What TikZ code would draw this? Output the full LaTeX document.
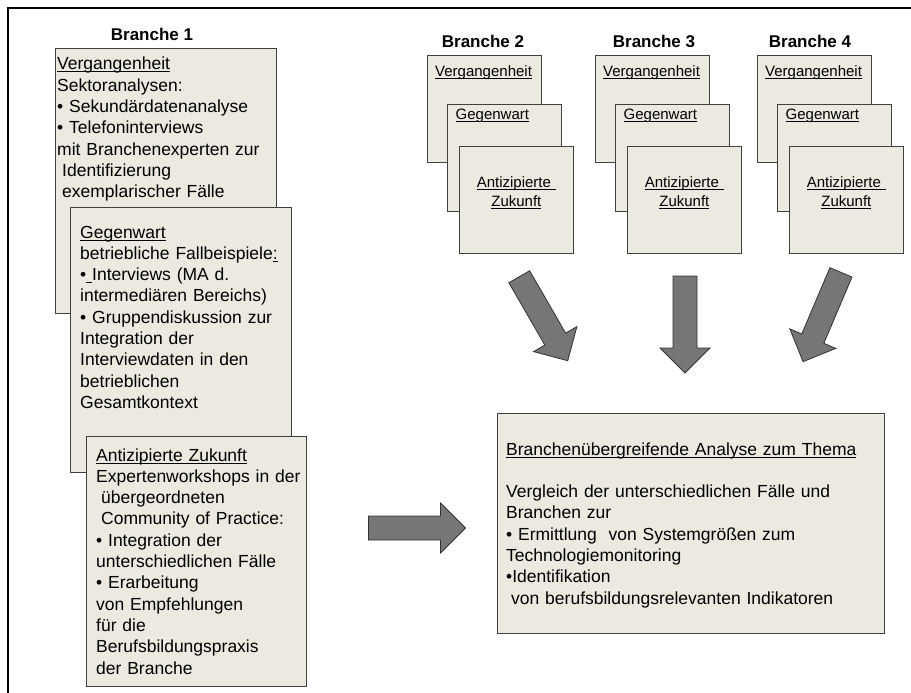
\documentclass[tikz,border=0pt]{standalone}
\usepackage{fontspec}
\setmainfont{Liberation Sans}
\definecolor{cardfill}{RGB}{236,233,224}
\definecolor{cardline}{RGB}{64,64,64}
\definecolor{arrowfill}{RGB}{118,118,118}
\newcommand\uword[1]{\leavevmode\setbox0=\hbox{#1}\rlap{\rule[-2.4pt]{\wd0}{0.9pt}}\box0}
\begin{document}
\begin{tikzpicture}[x=1pt, y=-1pt,
        card/.style={draw=cardline, fill=cardfill, line width=0.8pt, inner sep=0pt, anchor=north west},
        smallcard/.style={card, minimum width=114pt, minimum height=107pt},
        cardtext/.style={inner sep=0pt, align=left, anchor=base west, font=\fontsize{17.5}{21.3}\selectfont},
        tagtext/.style={inner sep=0pt, font=\fontsize{15}{19.5}\selectfont},
        branchhead/.style={inner sep=0pt, anchor=base, font=\bfseries\fontsize{17}{20}\selectfont},
        blockarrow/.style={draw=black!80, fill=arrowfill, line width=0.8pt, line join=miter}]
            \useasboundingbox (0,0) rectangle (911,693);
            \draw[line width=2.5pt] (8,693) -- (8,8) -- (911,8);
            \node[branchhead] (h1) at (152,40.5) {Branche 1};
            \node[card, minimum width=221pt, minimum height=265pt] (b1v) at (55,48) {};
            \node[cardtext, text width=216pt] (t1v) at ([shift={(2,22)}]b1v.north west)
                {\uword{Vergangenheit}\\ Sektoranalysen:\\ • Sekundärdatenanalyse\\ • Telefoninterviews\\
                 mit Branchenexperten zur\\ \hspace*{5pt}Identifizierung\\ \hspace*{5pt}exemplarischer Fälle};
            \node[card, minimum width=221pt, minimum height=265pt] (b1g) at (70,207) {};
            \node[cardtext, text width=208pt] (t1g) at ([shift={(10,31)}]b1g.north west)
                {\uword{Gegenwart}\\ betriebliche Fallbeispiele\uword{:}\\ •\uword{ }Interviews (MA d.\\
                 intermediären Bereichs)\\ • Gruppendiskussion zur\\ Integration der\\
                 Interviewdaten in den\\ betrieblichen\\ Gesamtkontext};
            \node[card, minimum width=220pt, minimum height=250pt] (b1a) at (86,436) {};
            \node[cardtext, text width=208pt] (t1a) at ([shift={(10,25)}]b1a.north west)
                {\uword{Antizipierte Zukunft}\\ Expertenworkshops in der\\ \hspace*{5pt}übergeordneten\\
                 \hspace*{5pt}Community of Practice:\\ • Integration der\\ unterschiedlichen Fälle\\
                 • Erarbeitung\\ von Empfehlungen\\ für die\\ Berufsbildungspraxis\\ der Branche};
            \foreach \n/\x/\hx in {2/427/483, 3/595/654, 4/757/810}
                {
                    \node[branchhead] (h\n) at (\hx,48) {Branche \n};
                    \node[smallcard] (v\n) at (\x,55) {};
                    \node[tagtext, anchor=base west] (vt\n) at ([shift={(8,22)}]v\n.north west) {\uword{Vergangenheit}};
                    \node[smallcard] (g\n) at (\x+19.5,104) {};
                    \node[tagtext, anchor=base west] (gt\n) at ([shift={(9,15)}]g\n.north west) {\uword{Gegenwart}};
                    \node[smallcard] (a\n) at (\x+32,146) {};
                    \node[tagtext, anchor=base, text width=110pt, align=center] (at\n) at ([shift={(0,41)}]a\n.north)
                        {\uword{Antizipierte }\\ \uword{Zukunft}};
                }
            \foreach \cx/\cy/\ang in {543.5/318.75/-60, 685/324.5/-90, 822/317/-113, 417/528/0}
                \draw[blockarrow, shift={(\cx,\cy)}, rotate=\ang]
                    (-48.5,-12) -- (23.5,-12) -- (23.5,-25) -- (48.5,0) -- (23.5,25) -- (23.5,12) -- (-48.5,12) -- cycle;
            \node[card, minimum width=387pt, minimum height=220pt] (res) at (497,413) {};
            \node[cardtext, text width=375pt] (rest) at ([shift={(9,42)}]res.north west)
                {\uword{Branchenübergreifende Analyse zum Thema}\\[21.3pt]
                 Vergleich der unterschiedlichen Fälle und\\ Branchen zur\\ • Ermittlung\ \ von Systemgrößen zum\\
                 Technologiemonitoring\\ •Identifikation\\ \hspace*{5pt}von berufsbildungsrelevanten Indikatoren};
        \end{tikzpicture}
\end{document}
